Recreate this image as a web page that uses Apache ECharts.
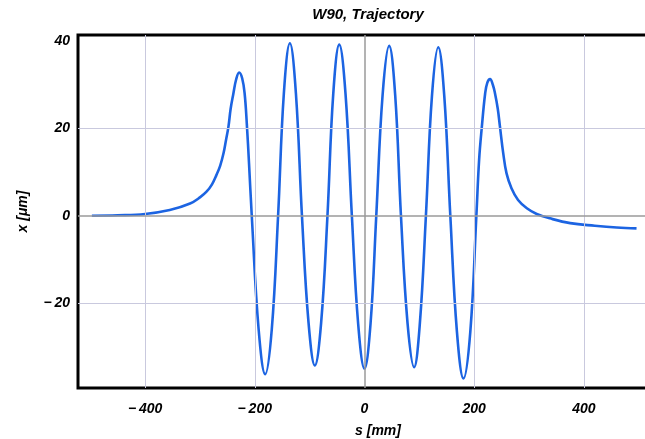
<!DOCTYPE html>
<html>
<head>
<meta charset="utf-8">
<script src="https://cdn.jsdelivr.net/npm/echarts@6/dist/echarts.min.js"></script>
<style>
  html, body { margin: 0; padding: 0; background: #fff; overflow: hidden; }
  #chart { width: 645px; height: 439px; }
</style>
</head>
<body>
<div id="chart"></div>
<script>
// s [mm] and x [um]
const sVals = [
  -497, -450, -400, -355, -318, -300, -288, -278, -270, -263, -257, -252.5, -248, -244, -239, -234, -228.5,
  -223, -218.5, -214.5, -210.5, -205.5,
  -193, -181, -169, -157.5,
  -147, -136, -125, -114,
  -102, -90.5, -79, -67.5,
  -57, -46, -34.5, -23,
  -11.5, 0, 11, 21.5,
  33, 45, 56, 66.5,
  78.5, 90.5, 101, 112,
  123, 134.5, 145.5, 156.5,
  168.5, 180.5, 193, 204,
  209, 214, 220, 224, 229, 234, 238, 243, 247, 253, 259, 268, 280, 296, 314, 338, 375, 420, 460, 496
];
const xVals = [
  0, 0.1, 0.4, 1.3, 2.8, 4.2, 5.5, 7.2, 9.3, 11.5, 14.3, 17.3, 20.4, 24.5, 28, 31.2, 32.8,
  31.5, 28, 21, 12, 0,
  -26, -36.3, -26, 0,
  28, 39.5, 28, 0,
  -24.5, -34.3, -24.5, 0,
  27.8, 39.2, 27.8, 0,
  -24.8, -35, -24.8, 0,
  27.6, 38.9, 27.6, 0,
  -24.6, -34.7, -24.6, 0,
  27.4, 38.6, 27.4, 0,
  -26.5, -37.3, -26.5, 0,
  12.8, 20.4, 28, 30.5, 31.3, 30, 28, 24.5, 20.4, 14.3, 9.7, 6.3, 3.6, 1.7, 0.4, -0.6, -1.7, -2.3, -2.7, -2.9
];

// tick labels / grid lines
const sTicks = [-400, -200, 0, 200, 400];
const xTicks = [-20, 0, 20, 40];

const labelFont = {
  color: "#000",
  fontFamily: "Liberation Sans",
  fontStyle: "italic",
  fontWeight: "bold",
  fontSize: 14,
};

function fmt(v) {
  return v < 0 ? "\u2212\u2009" + Math.abs(v) : String(v);
}

const gridColor = "#c9c9de";
const zeroColor = "#9a9a9a";

let gridLines = [];
sTicks.forEach((v) => {
  gridLines.push({ xAxis: v, lineStyle: { color: v == 0 ? zeroColor : gridColor, width: v == 0 ? 1.5 : 1, type: "solid" } });
});
xTicks.forEach((v) => {
  if (v == 40) return; // hidden under top frame in the original
  gridLines.push({ yAxis: v, lineStyle: { color: v == 0 ? zeroColor : gridColor, width: v == 0 ? 1.5 : 1, type: "solid" } });
});

const chart = echarts.init(document.getElementById("chart"));
chart.setOption({
  animation: false,
  title: {
    text: "W90, Trajectory",
    left: 363,
    top: 2,
    textAlign: "center",
    textStyle: Object.assign({}, labelFont, { fontSize: 15 }),
  },
  // right edge of the frame runs off the picture
  grid: {
    left: 78,
    top: 35,
    width: 600,
    height: 353,
    outerBoundsMode: "none",
    show: true,
    borderColor: "#000",
    borderWidth: 3,
  },
  xAxis: {
    type: "value",
    min: -522.3,
    max: 571.6,
    splitNumber: 5,
    name: "s [mm]",
    nameLocation: "middle",
    nameGap: 36,
    nameTextStyle: labelFont,
    axisLine: { show: false },
    axisTick: { show: false },
    splitLine: { show: false },
    axisLabel: Object.assign({}, labelFont, {
      margin: 14,
      formatter: (v) => (sTicks.indexOf(v) >= 0 ? fmt(v) : ""),
    }),
  },
  yAxis: {
    type: "value",
    min: -39.46,
    max: 41.4,
    splitNumber: 4,
    name: "x [\u03bcm]",
    nameLocation: "middle",
    nameRotate: 90,
    nameGap: 48,
    nameTextStyle: labelFont,
    axisLine: { show: false },
    axisTick: { show: false },
    splitLine: { show: false },
    axisLabel: Object.assign({}, labelFont, {
      margin: 8,
      formatter: (v) => (xTicks.indexOf(v) >= 0 ? fmt(v) : ""),
    }),
  },
  series: [
    {
      type: "line",
      data: [],
      z: 1,
      markLine: {
        silent: true,
        symbol: "none",
        label: { show: false },
        data: gridLines,
      },
    },
    {
      type: "line",
      z: 3,
      data: sVals.map((s, i) => [s, xVals[i]]),
      showSymbol: false,
      smooth: 0.4,
      lineStyle: { color: "#1c64e2", width: 2.6 },
    },
  ],
});
</script>
</body>
</html>
